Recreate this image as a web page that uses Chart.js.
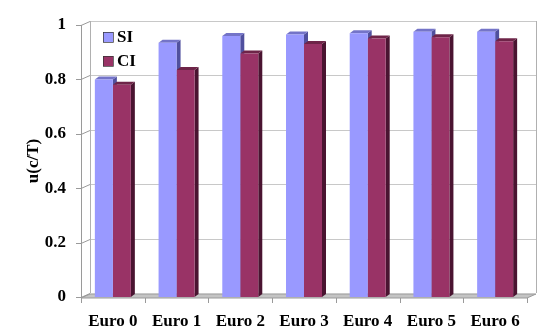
<!DOCTYPE html>
<html>
<head>
<meta charset="UTF-8">
<title>u(c/T) SI / CI</title>
<script src="https://cdn.jsdelivr.net/npm/chart.js"></script>
<style>
  html, body { margin: 0; padding: 0; background: #fff; }
</style>
</head>
<body>
<canvas id="chart" width="550" height="332"></canvas>
<script>
  // values
  const categories = ['Euro 0', 'Euro 1', 'Euro 2', 'Euro 3', 'Euro 4', 'Euro 5', 'Euro 6'];
  const siValues = [0.80, 0.935, 0.96, 0.965, 0.97, 0.975, 0.975];
  const ciValues = [0.78, 0.835, 0.895, 0.93, 0.95, 0.955, 0.94];

  const serif = 'Liberation Serif, Times New Roman, serif';

  // excel-like 3D box: walls, floor, bar sides and tops
  const box3d = {
    id: 'box3d',
    beforeDatasetsDraw(chart) {
      const { ctx, chartArea: a, scales: { x, y } } = chart;
      const dx = 9, dy = -4;   // wall depth
      const bd = 4, bh = 3;    // bar depth
      ctx.save();
      ctx.lineWidth = 1;

      // floor
      ctx.fillStyle = '#c4c4c4';
      ctx.strokeStyle = '#9a9a9a';
      ctx.beginPath();
      ctx.moveTo(a.left, a.bottom + 1);
      ctx.lineTo(a.right, a.bottom + 1);
      ctx.lineTo(a.right + dx, a.bottom + 1 + dy);
      ctx.lineTo(a.left + dx, a.bottom + 1 + dy);
      ctx.closePath();
      ctx.fill();
      ctx.stroke();

      // back wall grid + left wall diagonals + ticks
      y.ticks.forEach((t, i) => {
        const py = Math.round(y.getPixelForTick(i)) + 0.5;
        ctx.strokeStyle = '#c8c8c8';
        ctx.beginPath();
        ctx.moveTo(a.left + dx, py + dy);
        ctx.lineTo(a.right + dx, py + dy);
        ctx.stroke();
        ctx.strokeStyle = '#9a9a9a';
        ctx.beginPath();
        ctx.moveTo(a.left - 5, py);
        ctx.lineTo(a.left, py);
        ctx.lineTo(a.left + dx, py + dy);
        ctx.stroke();
      });

      // wall verticals
      ctx.strokeStyle = '#b0b0b0';
      ctx.beginPath();
      ctx.moveTo(a.left + dx + 0.5, a.top + dy);
      ctx.lineTo(a.left + dx + 0.5, a.bottom + dy);
      ctx.moveTo(a.right + dx + 0.5, a.top + dy);
      ctx.lineTo(a.right + dx + 0.5, a.bottom + dy);
      ctx.stroke();
      ctx.strokeStyle = '#9a9a9a';
      ctx.beginPath();
      ctx.moveTo(a.left + 0.5, a.top);
      ctx.lineTo(a.left + 0.5, a.bottom + 1);
      ctx.stroke();

      // category separators under the floor
      const n = categories.length;
      ctx.beginPath();
      for (let i = 0; i <= n; i++) {
        const px = Math.round(a.left + i * a.width / n) + 0.5;
        ctx.moveTo(px, a.bottom + 1);
        ctx.lineTo(px, a.bottom + 6);
      }
      ctx.stroke();

      // bar sides and tops
      const faces = [
        { side: '#50509e', top: '#7474c8' },
        { side: '#4a1431', top: '#6e2448' }
      ];
      chart.data.datasets.forEach((ds, di) => {
        const meta = chart.getDatasetMeta(di);
        meta.data.forEach(bar => {
          const p = bar.getProps(['x', 'y', 'base', 'width'], true);
          const l = p.x - p.width / 2, r = p.x + p.width / 2;
          ctx.fillStyle = faces[di].side;
          ctx.beginPath();
          ctx.moveTo(r, p.y);
          ctx.lineTo(r + bd, p.y - bh);
          ctx.lineTo(r + bd, p.base - bh);
          ctx.lineTo(r, p.base);
          ctx.closePath();
          ctx.fill();
          ctx.fillStyle = faces[di].top;
          ctx.beginPath();
          ctx.moveTo(l, p.y);
          ctx.lineTo(l + bd, p.y - bh);
          ctx.lineTo(r + bd, p.y - bh);
          ctx.lineTo(r, p.y);
          ctx.closePath();
          ctx.fill();
        });
      });
      ctx.restore();
    },
    afterDraw(chart) {
      // legend inside the plot, top left
      const { ctx, chartArea: a } = chart;
      ctx.save();
      ctx.font = 'bold 17px ' + serif;
      ctx.textBaseline = 'middle';
      chart.data.datasets.forEach((ds, i) => {
        const lx = a.left + 22, ly = a.top + 7 + i * 24;
        ctx.fillStyle = ds.backgroundColor;
        ctx.fillRect(lx, ly, 10, 10);
        ctx.strokeStyle = '#333';
        ctx.lineWidth = 0.7;
        ctx.strokeRect(lx + 0.5, ly + 0.5, 10, 10);
        ctx.fillStyle = '#000';
        ctx.fillText(ds.label, lx + 14, ly + 6);
      });
      ctx.restore();
    }
  };

  new Chart(document.getElementById('chart'), {
    type: 'bar',
    data: {
      labels: categories,
      datasets: [
        { label: 'SI', data: siValues, backgroundColor: '#9999ff' },
        { label: 'CI', data: ciValues, backgroundColor: '#993366' }
      ]
    },
    options: {
      responsive: false,
      animation: false,
      layout: { padding: { left: 23, top: 25, right: 23, bottom: 0 } },
      datasets: { bar: { categoryPercentage: 0.565, barPercentage: 1 } },
      plugins: { legend: { display: false }, tooltip: { enabled: false } },
      scales: {
        x: {
          grid: { display: false },
          border: { display: false },
          ticks: {
            color: '#000',
            font: { family: serif, size: 17, weight: 'bold' },
            padding: 6,
            maxRotation: 0,
            autoSkip: false
          },
          afterFit(s) { s.height = 35; }
        },
        y: {
          min: 0,
          max: 1,
          grid: { display: false },
          border: { display: false },
          ticks: {
            stepSize: 0.2,
            color: '#000',
            padding: 7,
            font: { family: serif, size: 17, weight: 'bold' },
            callback: v => String(Math.round(v * 10) / 10)
          },
          title: {
            display: true,
            text: 'u(c/T)',
            color: '#000',
            padding: { top: 0, bottom: 0 },
            font: { family: serif, size: 17, weight: 'bold' }
          },
          afterFit(s) { s.width = 58; }
        }
      }
    },
    plugins: [box3d]
  });
</script>
</body>
</html>
